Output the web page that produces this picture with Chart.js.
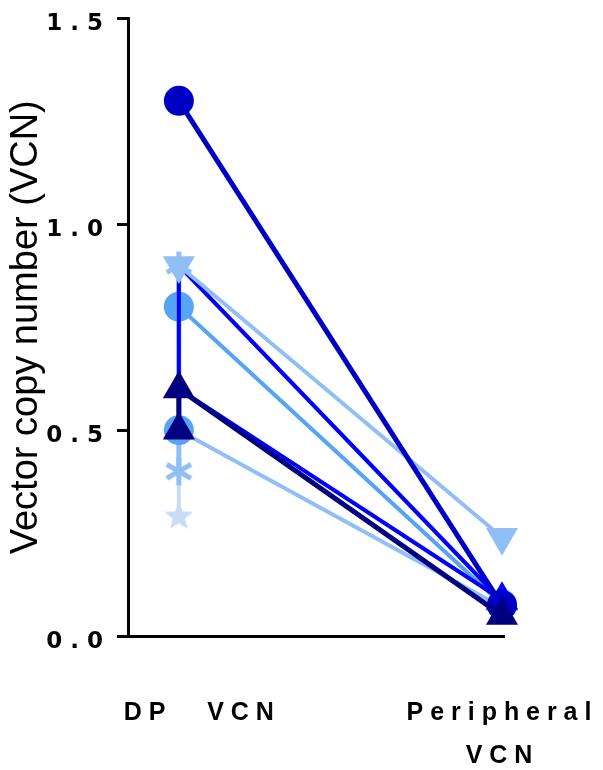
<!DOCTYPE html>
<html>
<head>
<meta charset="utf-8">
<script src="https://cdn.jsdelivr.net/npm/chart.js@4.4.0/dist/chart.umd.min.js"></script>
<style>
  body { margin: 0; background: #fff; }
</style>
</head>
<body>
<canvas id="vcnChart" width="603" height="770"></canvas>
<script>
const categories = ['D P      V C N', ['P e r i p h e r a l', 'V C N']];
const yTicks = [0, 0.5, 1, 1.5];
const yTickLabels = ['0 . 0', '0 . 5', '1 . 0', '1 . 5'];
const yTitle = 'Vector copy number (VCN)';

// [category index, VCN]  (0 = DP VCN, 1 = Peripheral VCN)
const darkCircle = [[0, 1.3], [1, 0.075]];
const lightTriangle = [[0, 0.9], [1, 0.24]];
const blueLine = [[1, 0.085], [0, 0.9], [0, 0.6], [1, 0.088]];
const midCircle = [[0, 0.8], [1, 0.077]];
const navyTriangle = [[1, 0.05], [0, 0.6], [0, 0.5]];
const lightLine = [[0, 0.5], [1, 0.07]];
const midCircleLow = [[0, 0.5]];
const lightVertical = [[0, 0.9], [0, 0.4]];
const asteriskPoints = [[0, 0.9], [0, 0.4]];
const paleStar = [[0, 0.4], [0, 0.29]];

const DARK = '#0000C4';
const BLUE = '#0000FF';
const NAVY = '#000080';
const MID = '#57A3F6';
const LIGHT = '#90BFF6';
const PALE = '#C8DCF8';
const FONT = "'Liberation Sans', Arial, sans-serif";
const TICK_FONT = "'DejaVu Sans', 'Liberation Sans', sans-serif";

const pts = a => a.map(([x, y]) => ({ x, y }));

function asterisk(color, r, w) {
    const c = document.createElement('canvas');
    c.width = c.height = 2 * r + w;
    const g = c.getContext('2d');
    g.translate(c.width / 2, c.height / 2);
    g.strokeStyle = color;
    g.lineWidth = w;
    [90, 30, 150].forEach(a => {
        const t = a * Math.PI / 180;
        g.beginPath();
        g.moveTo(-r * Math.cos(t), -r * Math.sin(t));
        g.lineTo(r * Math.cos(t), r * Math.sin(t));
        g.stroke();
    });
    return c;
}

function star(color, R, r) {
    const c = document.createElement('canvas');
    c.width = c.height = 2 * R + 2;
    const g = c.getContext('2d');
    g.translate(c.width / 2, c.height / 2);
    g.fillStyle = color;
    g.beginPath();
    for (let i = 0; i < 10; i++) {
        const rad = i % 2 ? r : R;
        const t = -Math.PI / 2 + i * Math.PI / 5;
        g.lineTo(rad * Math.cos(t), rad * Math.sin(t));
    }
    g.closePath();
    g.fill();
    return c;
}

const series = (data, color, width, shape, radius, extra) => Object.assign({
    data: pts(data),
    borderColor: color,
    backgroundColor: color,
    pointBackgroundColor: color,
    borderWidth: width,
    showLine: width > 0,
    pointStyle: shape,
    pointRadius: radius,
    pointHoverRadius: radius,
    pointBorderWidth: 0,
    clip: false,
    xAxisID: 'x',
    yAxisID: 'y'
}, extra || {});

const ctx = document.getElementById('vcnChart').getContext('2d');
new Chart(ctx, {
    type: 'scatter',
    data: {
        datasets: [
            series(navyTriangle, NAVY, 5, 'triangle', 18.5),
            series(darkCircle, DARK, 5, 'circle', 15),
            series(asteriskPoints, LIGHT, 0, asterisk(LIGHT, 14, 5), 14),
            series(lightTriangle, LIGHT, 4, 'triangle', 18.5, { pointRotation: 180 }),
            series(blueLine, BLUE, 4, 'triangle', 18.5, {
                pointRadius: c => (c.raw && c.raw.x === 1 ? 18.5 : 0)
            }),
            series(midCircle, MID, 4, 'circle', 15),
            series(lightLine, LIGHT, 4, 'circle', 0),
            series(midCircleLow, MID, 0, 'circle', 15),
            series(lightVertical, LIGHT, 5, 'circle', 0),
            series(paleStar, PALE, 4, 'circle', 15, {
                pointStyle: star(PALE, 15, 6.5),
                pointRadius: c => (c.dataIndex === 1 ? 15 : 0)
            })
        ]
    },
    options: {
        responsive: false,
        animation: false,
        layout: { padding: { top: 17, right: 99, left: 0, bottom: 0 } },
        plugins: { legend: { display: false }, tooltip: { enabled: false } },
        scales: {
            x: { type: 'linear', display: false, min: -0.1574, max: 1.0062 },
            xl: {
                type: 'linear',
                position: 'bottom',
                min: -0.2359,
                max: 1.0166,
                afterBuildTicks: s => { s.ticks = categories.map((_, i) => ({ value: i })); },
                afterFit: s => { s.height = 134; s.paddingLeft = 0; s.paddingRight = 0; },
                grid: { display: false, drawTicks: false },
                border: { display: true, color: '#000', width: 3 },
                ticks: {
                    autoSkip: false,
                    maxRotation: 0,
                    minRotation: 0,
                    padding: 56,
                    color: '#000',
                    font: { family: FONT, size: 25, weight: 'bold', lineHeight: 1.7 },
                    callback: (v, i) => categories[i]
                }
            },
            y: {
                min: 0,
                max: 1.5,
                afterBuildTicks: s => { s.ticks = yTicks.map(v => ({ value: v })); },
                afterFit: s => { s.width = 128; s.paddingTop = 0; s.paddingBottom = 0; },
                grid: { drawOnChartArea: false, drawTicks: true, tickLength: 11, lineWidth: 3, color: '#000', tickColor: '#000' },
                border: { display: true, color: '#000', width: 3 },
                ticks: {
                    padding: 14,
                    labelOffset: 6,
                    color: '#000',
                    font: { family: TICK_FONT, size: 23, weight: 'bold' },
                    callback: (v, i) => yTickLabels[i]
                },
                title: {
                    display: true,
                    text: yTitle,
                    color: '#000',
                    font: { family: FONT, size: 38, weight: 'normal' },
                    padding: { top: 4, bottom: 4 }
                }
            }
        }
    }
});
</script>
</body>
</html>
